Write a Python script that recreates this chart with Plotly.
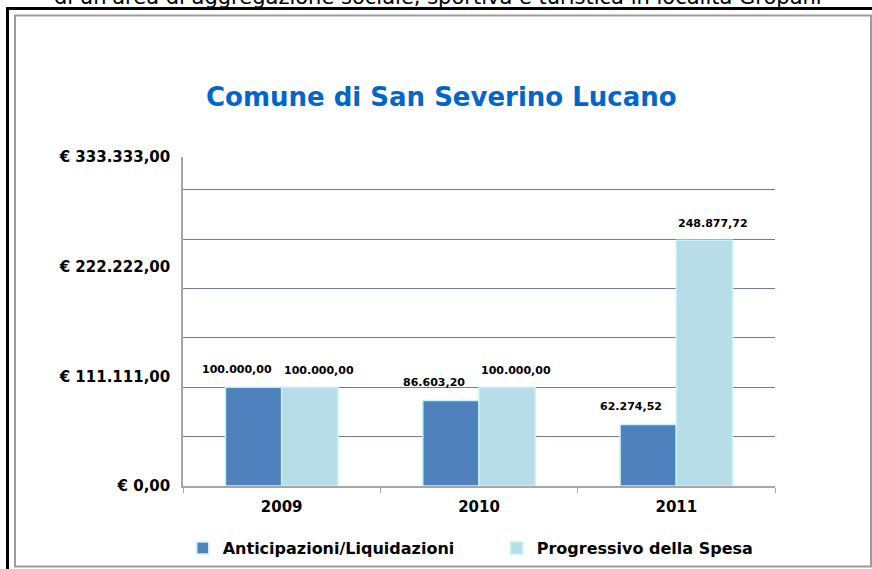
import plotly.graph_objects as go

# ---- data ----
years = ["2009", "2010", "2011"]
anticipazioni = [100000.00, 86603.20, 62274.52]
progressivo = [100000.00, 100000.00, 248877.72]
anticipazioni_labels = ["100.000,00", "86.603,20", "62.274,52"]
progressivo_labels = ["100.000,00", "100.000,00", "248.877,72"]
ytick_vals = [0, 111111, 222222, 333333]
ytick_text = ["€ 0,00", "€ 111.111,00", "€ 222.222,00", "€ 333.333,00"]
series_names = ["Anticipazioni/Liquidazioni", "Progressivo della Spesa"]
title_text = "Comune di San Severino Lucano"
top_text = "di un'area di aggregazione sociale, sportiva e turistica in località Gropani"

# ---- layout constants ----
W, H = 872, 569
ML, MR, MT, MB = 183, 97, 157, 83
PW, PH = W - ML - MR, H - MT - MB

def px(x):
    return (x - ML) / PW

def py(y):
    return (H - MB - y) / PH

BOLD = "DejaVu Sans"
outline = "#c6f2f9"
LABEL_FONT = dict(family=BOLD, size=11, color="#000000", weight="bold")

fig = go.Figure()
fig.add_trace(go.Bar(
    x=years, y=anticipazioni, name=series_names[0],
    marker=dict(color="#4f81bd", line=dict(color=outline, width=1.5)),
))
fig.add_trace(go.Bar(
    x=years, y=progressivo, name=series_names[1],
    marker=dict(color="#b7dee8", line=dict(color=outline, width=1.5)),
))

annotations = []
# data labels anchored to the bar values on the data axes (category index on x)
for i, (v, lab) in enumerate(zip(anticipazioni, anticipazioni_labels)):
    annotations.append(dict(x=i, y=v, xref="x", yref="y", text=lab, showarrow=False,
                            xshift=-45, yshift=18, yanchor="middle", font=LABEL_FONT))
for i, (v, lab) in enumerate(zip(progressivo, progressivo_labels)):
    annotations.append(dict(x=i, y=v, xref="x", yref="y", text=lab, showarrow=False,
                            xshift=37, yshift=17, yanchor="middle", font=LABEL_FONT))

annotations += [
    dict(text=title_text, xref="paper", yref="paper", x=px(441), y=py(97),
         xanchor="center", yanchor="middle", showarrow=False,
         font=dict(family=BOLD, size=26, color="#0066cc", weight="bold")),
    dict(text=top_text, xref="paper", yref="paper", x=px(438), y=py(11),
         xanchor="center", yanchor="bottom", showarrow=False,
         font=dict(family=BOLD, size=21, color="#000000")),
]

fig.update_layout(
    width=W, height=H,
    margin=dict(l=ML, r=MR, t=MT, b=MB, autoexpand=False),
    paper_bgcolor="white", plot_bgcolor="white",
    barmode="group", bargap=0.43, bargroupgap=0,
    showlegend=True,
    legend=dict(
        orientation="h", x=-0.0005, xanchor="left", y=py(548), yanchor="middle",
        font=dict(family=BOLD, size=16, color="#000000", weight="bold"),
        entrywidth=269, entrywidthmode="pixels",
        bgcolor="rgba(0,0,0,0)",
    ),
    xaxis=dict(
        type="category", categoryorder="array", categoryarray=years,
        range=[-0.5, len(years) - 0.5], autorange=False,
        showline=True, linecolor="#a6a6a6", linewidth=1.5,
        ticks="outside", tickson="boundaries", ticklen=5, tickcolor="#a6a6a6",
        showgrid=False,
        tickfont=dict(family=BOLD, size=15, color="#000000", weight="bold"),
        ticklabelstandoff=6,
    ),
    yaxis=dict(
        range=[0, 333333], autorange=False,
        showline=True, linecolor="#a6a6a6", linewidth=1.5,
        tickmode="array", tickvals=ytick_vals, ticktext=ytick_text,
        ticks="", showgrid=False, zeroline=False,
        tickfont=dict(family=BOLD, size=15, color="#000000", weight="bold"),
        ticklabelstandoff=8,
        minor=dict(tickmode="linear", tick0=0, dtick=50000, showgrid=True,
                   gridcolor="#7676ad", gridwidth=1, ticks=""),
    ),
    annotations=annotations,
    shapes=[
        dict(type="rect", xref="paper", yref="paper",
             x0=px(15), x1=px(871), y0=py(15.5), y1=py(566.5),
             line=dict(color="#9c9c9c", width=2), fillcolor="rgba(0,0,0,0)", layer="below"),
        dict(type="line", xref="paper", yref="paper",
             x0=px(7.5), x1=px(875), y0=py(8.5), y1=py(8.5),
             line=dict(color="#000000", width=3)),
        dict(type="line", xref="paper", yref="paper",
             x0=px(7.5), x1=px(7.5), y0=py(7), y1=py(575),
             line=dict(color="#000000", width=3)),
    ],
)

fig.write_html("out.html", config={"displayModeBar": False},
               post_script="document.body.style.margin='0';document.body.style.overflow='hidden';")
